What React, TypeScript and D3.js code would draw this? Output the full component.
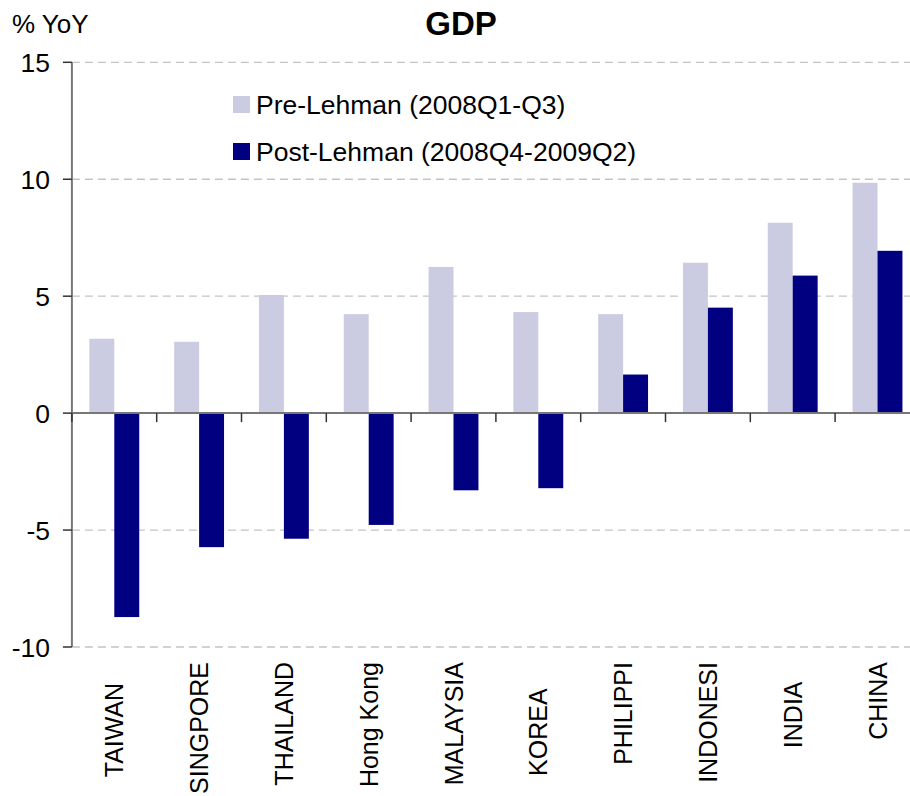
import React from "react";
import * as d3 from "d3";

const categories = ["TAIWAN   ", "SINGPORE", "THAILAND", "Hong Kong", "MALAYSIA", "KOREA    ", "PHILIPPI", "INDONESI", "INDIA   ", "CHINA"];
const preLehman = [3.18, 3.05, 5.05, 4.23, 6.25, 4.32, 4.23, 6.43, 8.14, 9.85];
const postLehman = [-8.72, -5.73, -5.37, -4.78, -3.30, -3.21, 1.65, 4.51, 5.88, 6.94];
const yTicks = [-10, -5, 0, 5, 10, 15];
const seriesNames = ["Pre-Lehman (2008Q1-Q3)", "Post-Lehman (2008Q4-2009Q2)"];
const seriesColors = ["#CBCBE2", "#000080"];

const W = 910;
const H = 796;
const FONT = "'Liberation Sans', Arial, sans-serif";

export default function App() {
  const left = 71.9;
  const step = 84.8;
  const x = d3.scaleBand<string>().domain(categories).range([left, left + step * categories.length]).padding(0);
  const inner = d3.scaleBand<string>().domain(["pre", "post"]).range([0, x.bandwidth()]).paddingInner(0).paddingOuter(0.7);
  const y = d3.scaleLinear().domain([-10, 15]).range([647, 62.3]);
  const y0 = y(0);

  return (
    <svg width={W} height={H} style={{ position: "absolute", left: 0, top: 0, background: "#fff" }} fontFamily={FONT}>
      <rect x={0} y={0} width={W} height={H} fill="#fff" />
      {/* gridlines */}
      {yTicks.filter((t) => t !== 0).map((t) => (
        <line key={"g" + t} x1={left} x2={W} y1={y(t)} y2={y(t)} stroke="#C4C4C4" strokeWidth={1.3} strokeDasharray="8,5" />
      ))}
      {/* bars */}
      {categories.map((c, i) => (
        <g key={"b" + i}>
          <rect x={(x(c) as number) + (inner("pre") as number)} width={inner.bandwidth()}
            y={Math.min(y(preLehman[i]), y0)} height={Math.abs(y(preLehman[i]) - y0)} fill={seriesColors[0]} />
          <rect x={(x(c) as number) + (inner("post") as number)} width={inner.bandwidth()}
            y={Math.min(y(postLehman[i]), y0)} height={Math.abs(y(postLehman[i]) - y0)} fill={seriesColors[1]} />
        </g>
      ))}
      {/* y axis */}
      <line x1={left} x2={left} y1={y(15)} y2={y(-10)} stroke="#777" strokeWidth={2} />
      {yTicks.map((t) => (
        <g key={"t" + t}>
          <line x1={left - 9} x2={left} y1={y(t)} y2={y(t)} stroke="#333" strokeWidth={1.5} />
          <text x={50} y={y(t)} dy="0.36em" textAnchor="end" fontSize={26.5} fill="#000">{t}</text>
        </g>
      ))}
      {/* x axis */}
      <line x1={left} x2={W} y1={y0} y2={y0} stroke="#777" strokeWidth={2} />
      {categories.map((c, i) => (
        <line key={"xt" + i} x1={x(c) as number} x2={x(c) as number} y1={y0} y2={y0 + 9} stroke="#333" strokeWidth={1.5} />
      ))}
      {categories.map((c, i) => {
        const cx = (x(c) as number) + x.bandwidth() / 2;
        return (
          <text key={"xl" + i} transform={`translate(${cx},662) rotate(-90)`} dy="0.36em" textAnchor="end"
            fontSize={25} fill="#000" xmlSpace="preserve" style={{ whiteSpace: "pre" }}>{c}</text>
        );
      })}
      {/* titles */}
      <text x={12} y={33} fontSize={26} fill="#000">% YoY</text>
      <text x={461} y={35} textAnchor="middle" fontSize={33} fontWeight="bold" fill="#000">GDP</text>
      {/* legend */}
      {seriesNames.map((s, i) => (
        <g key={"l" + i}>
          <rect x={233} y={96 + i * 47} width={17} height={17} fill={seriesColors[i]} />
          <text x={256} y={104.5 + i * 47} dy="0.36em" fontSize={26.5} fill="#000">{s}</text>
        </g>
      ))}
    </svg>
  );
}
